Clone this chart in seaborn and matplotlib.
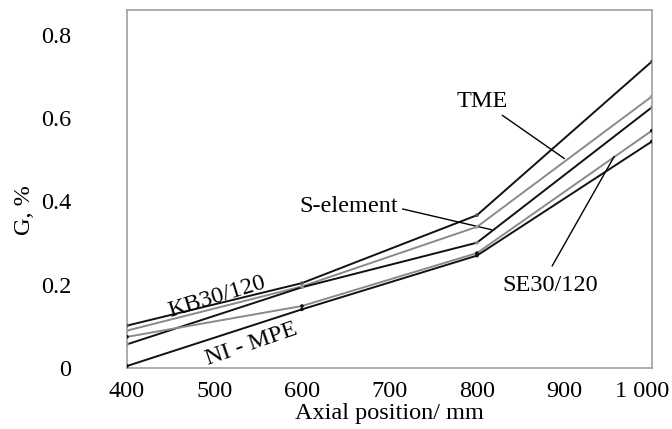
import numpy as np
import seaborn as sns
import matplotlib.pyplot as plt
import matplotlib.transforms as mtransforms
import pandas as pd

# axial positions and G values
positions = [400, 600, 800, 1000]
kb30_120 = [0.102, 0.204, 0.367, 0.736]
tme = [0.090, 0.196, 0.339, 0.652]
s_element = [0.057, 0.194, 0.301, 0.626]
se30_120 = [0.075, 0.149, 0.276, 0.570]
ni_mpe = [0.005, 0.141, 0.270, 0.544]

names = ['KB30/120', 'TME', 'S-element', 'SE30/120', 'NI - MPE']
series = [kb30_120, tme, s_element, se30_120, ni_mpe]

df = pd.DataFrame({
    'Axial position': positions * len(names),
    'G': sum(series, []),
    'Profile': [n for n in names for _ in positions],
})

line_colors = {'KB30/120': '#111111', 'TME': '#8a8a8a', 'S-element': '#111111',
               'SE30/120': '#8a8a8a', 'NI - MPE': '#111111'}
marker_colors = {'KB30/120': '#555555', 'TME': '#9a9a9a', 'S-element': '#8a8a8a',
                 'SE30/120': '#111111', 'NI - MPE': '#111111'}

sns.set_style('white')
plt.rcParams['font.family'] = ['Liberation Serif', 'DejaVu Serif']
plt.rcParams['text.color'] = 'black'
plt.rcParams['axes.labelcolor'] = 'black'
plt.rcParams['xtick.color'] = 'black'
plt.rcParams['ytick.color'] = 'black'

fs = 17.5
fig = plt.figure(figsize=(6.72, 4.29), dpi=100)
ax = fig.add_axes([0.189, 0.142, 0.781, 0.835])

sns.lineplot(data=df, x='Axial position', y='G', hue='Profile', palette=line_colors,
             linewidth=1.4, legend=False, ax=ax)
sns.scatterplot(data=df, x='Axial position', y='G', hue='Profile', palette=marker_colors,
                s=7, linewidth=0, legend=False, ax=ax, zorder=3)

ax.set_xlim(400, 1000)
ax.set_ylim(0, 0.86)
ax.set_xticks([400, 500, 600, 700, 800, 900, 1000])
ax.set_xticklabels(['400', '500', '600', '700', '800', '900', '1 000'])
ax.set_yticks([0, 0.2, 0.4, 0.6, 0.8])
ax.set_yticklabels(['0', '0.2', '0.4', '0.6', '0.8'])
ax.tick_params(axis='x', length=0, pad=9, labelsize=fs)
ax.tick_params(axis='y', length=0, pad=40, labelsize=fs)

# last x label sits a bit left of its tick, as in the original
last = ax.xaxis.get_major_ticks()[-1].label1
last.set_transform(last.get_transform() +
                   mtransforms.ScaledTranslation(-10 / 100, 0, fig.dpi_scale_trans))

for sp in ax.spines.values():
    sp.set_color('#a0a0a0')
    sp.set_linewidth(1.2)

ax.set_xlabel('Axial position/ mm', fontsize=fs, labelpad=1)
ax.set_ylabel('G, %', fontsize=fs)
ax.yaxis.set_label_coords(-0.176, 0.44)

# curve labels and leader lines
ax.text(806, 0.639, 'TME', fontsize=fs, ha='center', va='center')
ax.plot([829, 900], [0.607, 0.503], color='black', linewidth=1)
ax.text(653, 0.388, 'S-element', fontsize=fs, ha='center', va='center')
ax.plot([715, 817], [0.382, 0.332], color='black', linewidth=1)
ax.text(884, 0.199, 'SE30/120', fontsize=fs, ha='center', va='center')
ax.plot([886, 957], [0.245, 0.508], color='black', linewidth=1)
ax.text(503, 0.171, 'KB30/120', fontsize=fs, ha='center', va='center', rotation=17)
ax.text(542, 0.058, 'NI - MPE', fontsize=fs, ha='center', va='center', rotation=19)

plt.savefig('out.png', dpi=100)
